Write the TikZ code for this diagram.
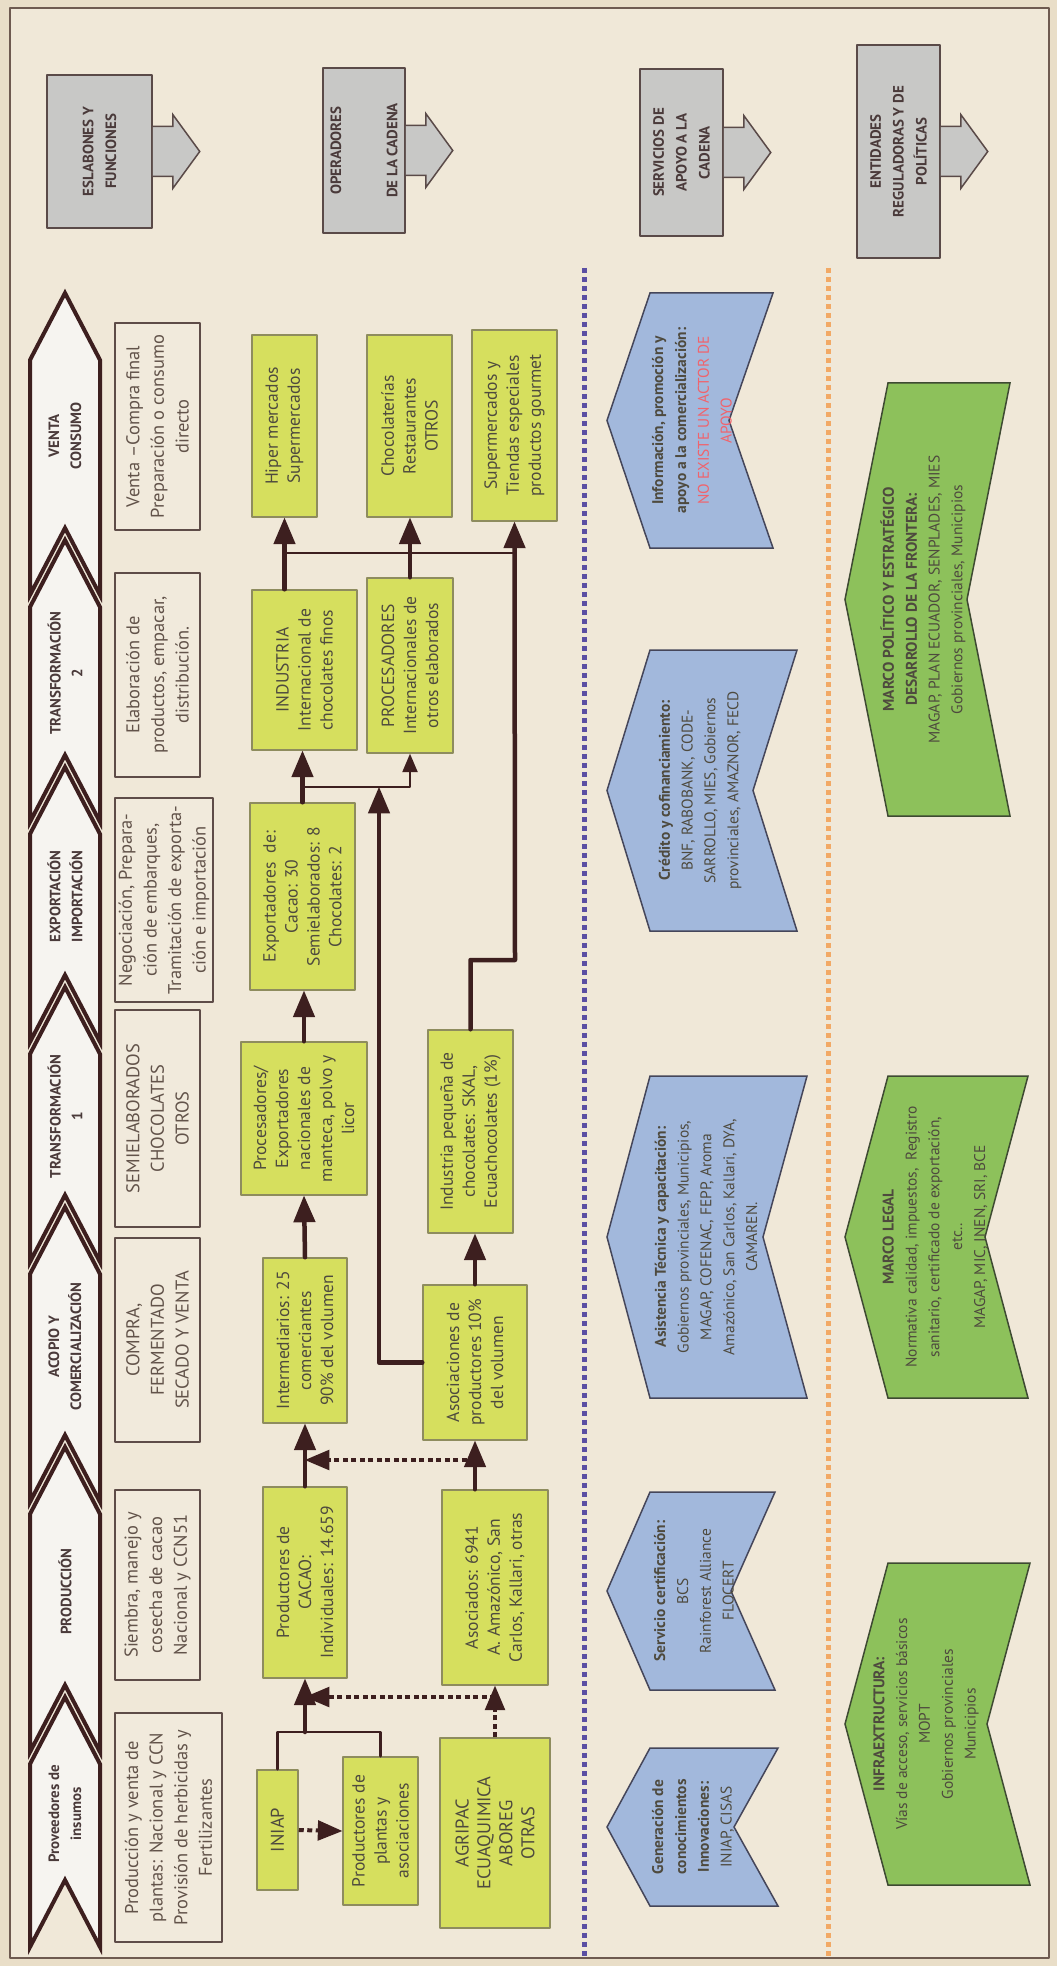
\documentclass[tikz,border=0pt]{standalone}
\usepackage{fontspec}
\setmainfont{PT Sans}
\usetikzlibrary{arrows}
\usetikzlibrary{calc}
\usetikzlibrary{positioning}
\newlength\pix
\setlength\pix{0.02cm}
\definecolor{bgout}{HTML}{E9DEC8}
\definecolor{bgin}{HTML}{F0E8D8}
\definecolor{frameline}{HTML}{6E5A50}
\definecolor{brownline}{HTML}{3D1F1F}
\definecolor{hdrfill}{HTML}{F6F4F0}
\definecolor{hdrtxt}{HTML}{4A3A3A}
\definecolor{descline}{HTML}{5E4C48}
\definecolor{descfill}{HTML}{F1EADC}
\definecolor{desctxt}{HTML}{62534A}
\definecolor{labfill}{HTML}{C8C8C6}
\definecolor{labline}{HTML}{5A4A48}
\definecolor{opfill}{HTML}{D6DF5E}
\definecolor{opline}{HTML}{8E8C5E}
\definecolor{optxt}{HTML}{4E4A3E}
\definecolor{svcfill}{HTML}{A2B8DC}
\definecolor{svcline}{HTML}{45465A}
\definecolor{polfill}{HTML}{8DC15B}
\definecolor{polline}{HTML}{3E4A32}
\definecolor{noactor}{HTML}{F0636C}
\definecolor{dotviolet}{HTML}{5B4FA3}
\definecolor{dotorange}{HTML}{F2A965}
\tikzset{
  hdr/.style={draw=brownline,line width=4\pix,fill=hdrfill,line join=miter},
  hdrtext/.style={rotate=90,align=center,text=hdrtxt,font=\bfseries\fontsize{8.5}{12.5}\selectfont},
  desc/.style={rotate=90,draw=descline,line width=2\pix,fill=descfill,align=center,inner sep=0pt,text=desctxt,font=\fontsize{10.5}{14}\selectfont},
  lab/.style={rotate=90,draw=labline,line width=1.5\pix,fill=labfill,align=center,inner sep=0pt,text=hdrtxt,font=\bfseries\fontsize{8.5}{13}\selectfont},
  labarrow/.style={draw=labline,line width=1.5\pix,fill=labfill,line join=miter},
  op/.style={rotate=90,draw=opline,line width=1.5\pix,fill=opfill,align=center,inner sep=0pt,text=optxt,font=\fontsize{10}{12.5}\selectfont},
  big/.style={font=\fontsize{10.5}{12.5}\selectfont},
  dims/.style 2 args={minimum width=#1\pix,minimum height=#2\pix},
  flow/.style={->,draw=brownline,line width=4.5\pix},
  thinflow/.style={->,draw=brownline,line width=2.5\pix},
  link/.style={draw=brownline,line width=2.5\pix},
  dotflow/.style={->,draw=brownline,line width=4\pix,line cap=butt,dash pattern=on 0.1cm off 0.07cm},
  sepline/.style={line width=5\pix,line cap=butt,dash pattern=on 0.1cm off 0.08cm},
  svc/.style={draw=svcline,line width=1.5\pix,fill=svcfill,line join=miter},
  pol/.style={draw=polline,line width=1.5\pix,fill=polfill,line join=miter},
  chtext/.style={rotate=90,align=center,text=optxt,font=\fontsize{8.8}{13}\selectfont}
}
\begin{document}
\begin{tikzpicture}[line cap=round,line join=round,>=triangle 45,x=0.02cm,y=-0.02cm]
% Page and frame
\useasboundingbox (0,0) rectangle (1057,1966);
\fill[bgout] (0,0) rectangle (1057,1966);
\draw[frameline,line width=2\pix,fill=bgin] (10,8) rectangle (1049,1958);
% Links of the chain
\foreach \a/\b/\n/\t in {293/595/hventa/{VENTA\\CONSUMO},
  540/822/htransb/{TRANSFORMACIÓN\\2},
  767/1042/hexport/{EXPORTACIÓN\\IMPORTACIÓN},
  987/1262/htransa/{TRANSFORMACIÓN\\1},
  1207/1502/hacopio/{ACOPIO Y\\COMERCIALIZACIÓN},
  1447/1752/hprod/{PRODUCCIÓN},
  1697/1947/hprov/{Proveedores de\\insumos}}
{
  \draw[hdr] (65,\a) -- (100,{\a+67}) -- (100,\b) -- (65,{\b-67}) -- (30,\b) -- (30,{\a+67}) -- cycle;
  \node[hdrtext] (\n) at (65,{(\a+\b)/2-8}) {\t};
}
% Functions
\node[desc,dims={207}{85}] (dventa) at (157.5,426.5) {Venta –Compra final\\Preparación o consumo\\directo};
\node[desc,dims={204}{85}] (delab) at (157.5,675) {Elaboración de\\productos, empacar,\\distribución.};
\node[desc,dims={204}{98}] (dexport) at (164,900) {Negociación, Prepara-\\ción de embarques,\\Tramitación de exporta-\\ción e importación};
\node[desc,dims={217}{85}] (dsemi) at (157.5,1118.5) {SEMIELABORADOS\\CHOCOLATES\\OTROS};
\node[desc,dims={204}{85}] (dcompra) at (157.5,1340) {COMPRA,\\FERMENTADO\\SECADO Y VENTA};
\node[desc,dims={190}{85}] (dsiembra) at (157.5,1585) {Siembra, manejo y\\cosecha de cacao\\Nacional y CCN51};
\node[desc,dims={229}{107}] (dprov) at (168.5,1827.5) {Producción y venta de\\plantas: Nacional y CCN\\Provisión de herbicidas y\\Fertilizantes};
% Row labels
\node[lab,dims={153}{105}] (lesl) at (99.5,151.5) {ESLABONES Y\\FUNCIONES};
\node[lab,dims={165}{82}] (lope) at (364,150.5) {OPERADORES\\[19pt]DE LA CADENA};
\node[lab,dims={167}{83}] (lserv) at (681.5,152.5) {SERVICIOS DE\\APOYO A LA\\CADENA};
\node[lab,dims={213}{83}] (lent) at (898.5,151.5) {ENTIDADES\\REGULADORAS Y DE\\POLÍTICAS};
\foreach \n in {lesl,lope,lserv,lent}
  \draw[labarrow] (\n.south) ++(0,-25) -- ++(20,0) -- ++(0,-12) -- ++(27,37) -- ++(-27,37) -- ++(0,-12) -- ++(-20,0);
% Operators
\node[op,dims={182}{65}] (hiper) at (284.5,426) {Hiper mercados\\Supermercados};
\node[op,dims={182}{85}] (chocol) at (409.5,426) {Chocolaterías\\Restaurantes\\OTROS};
\node[op,dims={191}{85}] (superm) at (514.5,425.5) {Supermercados y\\Tiendas especiales\\productos gourmet};
\node[op,dims={160}{105}] (industria) at (304.5,670) {INDUSTRIA\\Internacional de\\chocolates finos};
\node[op,dims={175}{86}] (procesad) at (410,665.5) {PROCESADORES\\Internacionales de\\otros elaborados};
\node[op,dims={187}{105}] (export) at (302.5,896.5) {Exportadores \ de:\\Cacao: 30\\Semielaborados: 8\\Chocolates: 2};
\node[op,dims={153}{126}] (procnac) at (304,1118.5) {Procesadores/\\Exportadores\\nacionales de\\manteca, polvo y\\licor};
\node[op,dims={203}{85}] (indpeq) at (470.5,1131.5) {Industria pequeña de\\chocolates: SKAL,\\Ecuachocolates (1\%)};
\node[op,dims={165}{84}] (inter) at (305,1340.5) {Intermediarios: 25\\comerciantes\\90\% del volumen};
\node[op,dims={155}{104}] (asoc) at (475,1362.5) {Asociaciones de\\productores 10\%\\del volumen};
\node[op,dims={191}{84}] (prodcacao) at (305,1582.5) {Productores de\\CACAO:\\Individuales: 14.659};
\node[op,dims={195}{106}] (asociados) at (495,1587.5) {Asociados: 6941\\A. Amazónico, San\\Carlos, Kallari, otras};
\node[op,big,dims={120}{41}] (iniap) at (277.5,1830) {INIAP};
\node[op,dims={148}{75}] (plantas) at (380.5,1831) {Productores de\\plantas y\\asociaciones};
\node[op,big,dims={190}{110}] (agripac) at (495,1833) {AGRIPAC\\ECUAQUIMICA\\ABOREG\\OTRAS};
% Flows
\coordinate (jA) at (305,1732);
\coordinate (rowA) at (0,1697);
\coordinate (rowB) at (0,1460);
\coordinate (jB) at (379,787);
\coordinate (jC) at (515,553);
\coordinate (jD) at (515,960);
\draw[link] (iniap.east) |- (jA) -| (plantas.east);
\draw[flow] (jA) -- (prodcacao.west);
\draw[dotflow] (iniap.south) -- (plantas.north);
\draw[dotflow] (agripac.east) -- (asociados.west);
\draw[dotflow] (agripac.east |- rowA) -- (prodcacao.west |- rowA);
\draw[flow] (prodcacao.east) -- (inter.west);
\draw[flow] (asoc.west |- asociados.east) -- (asoc.west);
\draw[dotflow] (asoc.west |- rowB) -- (inter.west |- rowB);
\draw[flow] (inter.east) -- (procnac.west);
\draw[flow] (procnac.east) -- (procnac.east |- export.west);
\draw[flow] (asoc.east) -- (asoc.east |- indpeq.west);
\draw[flow] (asoc.north) -| (jB);
\draw[thinflow] (export.east |- jB) -| (procesad.west);
\draw[flow] (export.east) -- (export.east |- industria.west);
\draw[flow] (hiper.west |- industria.east) -- (hiper.west);
\draw[flow] (procesad.east) -- (procesad.east |- chocol.west);
\draw[link] (hiper.west |- jC) -- (jC);
\draw[flow] (indpeq.east) |- (jD) -- (superm.west);
% Separators
\draw[sepline,dotviolet] (584,268) -- (584,1958);
\draw[sepline,dotorange] (828,268) -- (828,1958);
% Support services
\foreach \a/\b/\r/\c/\n/\t in {293/548/773/692/sinfo/{\textbf{Información, promoción y}\\\textbf{apoyo a la comercialización:}\\\textcolor{noactor}{NO EXISTE UN ACTOR DE}\\\textcolor{noactor}{APOYO}},
  650/931/797/700/scred/{\textbf{Crédito y cofinanciamiento:}\\BNF, RABOBANK, CODE-\\SARROLLO, MIES, Gobiernos\\provinciales, AMAZNOR, FECD},
  1076/1398/807/706/sasis/{\textbf{Asistencia Técnica y capacitación:}\\Gobiernos provinciales, Municipios,\\MAGAP, COFENAC, FEPP, Aroma\\Amazónico, San Carlos, Kallari, DYA,\\CAMAREN.},
  1492/1690/775/694/scert/{\textbf{Servicio certificación:}\\BCS\\Rainforest Alliance\\FLOCERT},
  1748/1906/778/693/sgen/{\textbf{Generación de}\\\textbf{conocimientos}\\\textbf{Innovaciones:}\\INIAP, CISAS}}
{
  \draw[svc] (607,{(\a+\b)/2}) -- (650,\a) -- (\r,\a) -- ({\r-44},{(\a+\b)/2}) -- (\r,\b) -- (650,\b) -- cycle;
  \node[chtext] (\n) at (\c,{(\a+\b)/2}) {\t};
}
% Regulation and policies
\foreach \a/\b/\r/\c/\n/\t in {383/816/1010/923/ppol/{\textbf{MARCO POLÍTICO Y ESTRATÉGICO}\\\textbf{DESARROLLO DE LA FRONTERA:}\\MAGAP, PLAN ECUADOR, SENPLADES, MIES\\Gobiernos provinciales, Municipios},
  1076/1398/1028/935/plegal/{\textbf{MARCO LEGAL}\\Normativa calidad, impuestos,\ \ Registro\\sanitario, certificado de exportación,\\etc..\\MAGAP, MIC, INEN, SRI, BCE},
  1563/1885/1030/926/pinfra/{\textbf{INFRAEXTRUCTURA:}\\Vías de acceso, servicios básicos\\MOPT\\Gobiernos provinciales\\Municipios}}
{
  \draw[pol] (845,{(\a+\b)/2}) -- (888,\a) -- (\r,\a) -- ({\r-43},{(\a+\b)/2}) -- (\r,\b) -- (888,\b) -- cycle;
  \node[chtext] (\n) at (\c,{(\a+\b)/2}) {\t};
}
\end{tikzpicture}
\end{document}
